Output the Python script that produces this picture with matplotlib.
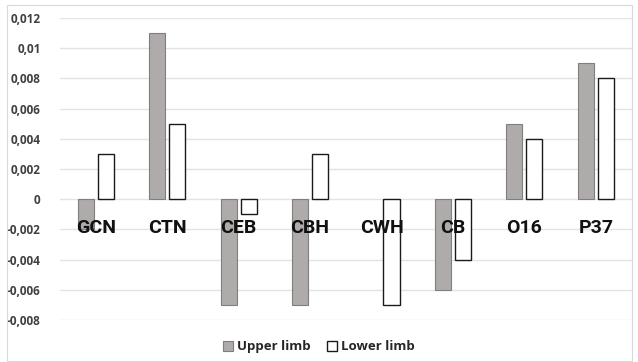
import numpy as np
import matplotlib.pyplot as plt
from matplotlib.ticker import FuncFormatter
from matplotlib.patches import Rectangle

# data
categories = ['GCN', 'CTN', 'CEB', 'CBH', 'CWH', 'CB', 'O16', 'P37']
upper_limb = [-0.002, 0.011, -0.007, -0.007, 0.0, -0.006, 0.005, 0.009]
lower_limb = [0.003, 0.005, -0.001, 0.003, -0.007, -0.004, 0.004, 0.008]
y_ticks = [-0.008, -0.006, -0.004, -0.002, 0, 0.002, 0.004, 0.006, 0.008, 0.01, 0.012]

fig = plt.figure(figsize=(6.38, 3.62), dpi=100)
fig.patches.append(Rectangle((0.011, 0.004), 0.98, 0.982, transform=fig.transFigure,
                             fill=False, edgecolor='#d9d9d9', linewidth=0.8))
ax = fig.add_axes([0.094, 0.116, 0.896, 0.834])

x = np.arange(len(categories))
w = 0.225
# zero-height bars get no outline so they don't show as a stray line
up_lw = [0.8 if v != 0 else 0 for v in upper_limb]
ax.bar(x - 0.14, upper_limb, w, color='#afabab', edgecolor='#7f7f7f', linewidth=up_lw,
       label='Upper limb', zorder=2)
ax.bar(x + 0.14, lower_limb, w, color='white', edgecolor='#1a1a1a', linewidth=1.0,
       label='Lower limb', zorder=2)

ax.set_xlim(-0.5, len(categories) - 0.5)
ax.set_ylim(-0.008, 0.012)
ax.set_yticks(y_ticks)

def fmt(v, pos):
    if abs(v) < 1e-12:
        return '0'
    return ('%g' % v).replace('.', ',')

ax.yaxis.set_major_formatter(FuncFormatter(fmt))
ax.tick_params(axis='y', length=0, pad=14, labelsize=8.5, labelcolor='#404040')
for t in ax.get_yticklabels():
    t.set_fontweight('bold')
    t.set_fontfamily('Open Sans')
ax.set_xticks([])
ax.grid(axis='y', color='#e3e3e3', linewidth=1.0, zorder=0)
for s in ax.spines.values():
    s.set_visible(False)

# category labels sit over the bars just below zero
for i, c in enumerate(categories):
    ax.text(i, -0.0019, c, ha='center', va='center', fontsize=14, fontweight='bold',
            family='Roboto', color='#111111', zorder=3)

leg = fig.legend(loc='center', bbox_to_anchor=(0.5, 0.042), ncol=2, frameon=False,
                 handlelength=0.8, handleheight=0.8, handletextpad=0.3, columnspacing=1.2,
                 prop={'family': 'Open Sans', 'weight': 'bold', 'size': 9.5})
for t in leg.get_texts():
    t.set_color('#262626')

fig.savefig('out.png', dpi=100)
